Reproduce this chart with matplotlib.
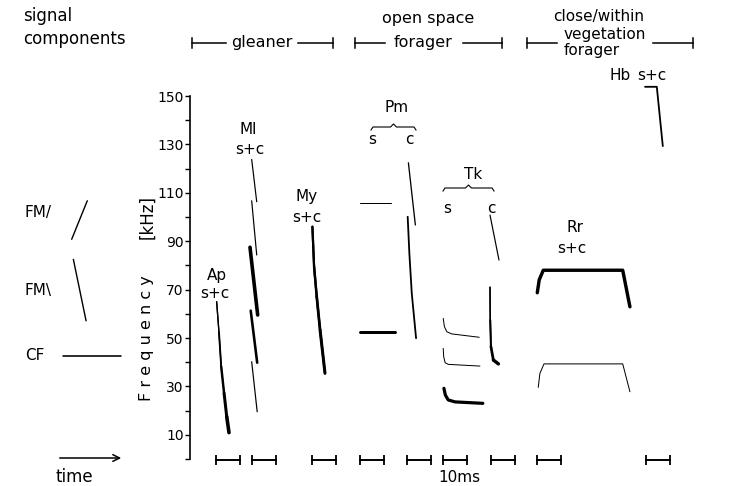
import matplotlib
matplotlib.use("Agg")
import numpy as np
import matplotlib.pyplot as plt
from matplotlib.collections import LineCollection
from matplotlib.lines import Line2D
from matplotlib.patches import FancyArrowPatch

# time in ms, frequency in kHz
ap_t = [11.1, 12.1, 13.0, 14.2, 15.3, 16.25]
ap_f = [65.0, 52.0, 38.2, 27.2, 17.5, 10.9]

ml_t = [[25.7, 27.8], [25.7, 27.8], [25.0, 28.2], [25.3, 28.0], [25.7, 28.0]]
ml_f = [[123.8, 106.3], [106.7, 84.3], [87.5, 59.5], [61.3, 39.8], [40.2, 19.5]]

my_t = [51.0, 51.7, 52.8, 54.2, 56.25]
my_f = [96.0, 79.5, 67.1, 53.3, 35.4]

pm_s_t = [[70.8, 83.6], [70.8, 85.4]]
pm_s_f = [[105.9, 105.9], [52.6, 52.6]]
pm_c_t = [[91.0, 93.9], [90.7, 91.4, 92.4, 94.2]]
pm_c_f = [[122.4, 96.7], [100.1, 85.0, 68.5, 49.9]]

tk_s_t = [[105.5, 106.0, 107.0, 109.0, 120.5],
          [105.5, 105.7, 106.3, 107.6, 120.8],
          [105.8, 106.4, 107.6, 110.4, 122.0]]
tk_s_f = [[58.1, 54.7, 52.6, 51.7, 50.3],
          [45.7, 42.3, 39.8, 39.1, 38.4],
          [29.2, 26.4, 24.4, 23.6, 23.0]]
tk_c_t = [[125.0, 128.75], [125.0, 125.1, 125.4, 126.4, 128.5]]
tk_c_f = [[100.8, 82.2], [71.0, 57.4, 46.4, 40.9, 39.3]]

rr_t = [[144.7, 145.5, 147.2, 180.3, 183.3], [145.1, 145.8, 147.5, 180.3, 183.3]]
rr_f = [[68.7, 74.0, 78.0, 78.0, 62.9], [29.6, 35.4, 39.3, 39.3, 27.8]]

hb_t = [189.6, 194.5, 197.0]
hb_f = [153.8, 153.8, 129.3]

# example components on the left
fm_up_t, fm_up_f = [-49.3, -42.8], [90.8, 106.7]
fm_dn_t, fm_dn_f = [-48.6, -43.3], [82.5, 57.1]
cf_t, cf_f = [-53.0, -28.9], [42.7, 42.7]

# 10 ms scale bars
bar_start = [10.8, 25.8, 50.8, 70.8, 90.4, 105.4, 125.4, 144.6, 190.0]
bar_len = 10

major_ticks = [10, 30, 50, 70, 90, 110, 130, 150]
minor_ticks = [0, 20, 40, 60, 80, 100, 120, 140]

W, H = 742, 486
fig = plt.figure(figsize=(W / 100, H / 100), dpi=100)
ax = fig.add_axes([0, 0, 1, 1])
ax.set_xlim(-190 / 2.4, 552 / 2.4)
ax.set_ylim((459 - 486) / 2.42, 459 / 2.42)
ax.patch.set_alpha(0)

for s in ["top", "right", "bottom"]:
    ax.spines[s].set_visible(False)
ax.spines["left"].set_position(("data", 0))
ax.spines["left"].set_bounds(0, 150)
ax.spines["left"].set_linewidth(1.2)
ax.set_xticks([])
ax.set_yticks(major_ticks)
ax.set_yticks(minor_ticks, minor=True)
ax.tick_params(axis="y", which="both", direction="out", length=3.5, width=1.0)
ax.tick_params(axis="y", which="major", labelsize=10, pad=1)


def px2w(p):
    return p / 1.39


def draw(t, f, w0, w1=None):
    if w1 is None or w1 == w0:
        ax.plot(t, f, color="black", lw=px2w(w0), solid_capstyle="round",
                solid_joinstyle="round")
        return
    # thin line along the whole call, thicker pieces laid on top
    ax.plot(t, f, color="black", lw=px2w(w0), solid_capstyle="round",
            solid_joinstyle="round")
    pts = np.column_stack([t, f])
    segs = [pts[i:i + 2] for i in range(len(pts) - 1)]
    widths = np.linspace(px2w(w0), px2w(w1), len(segs))
    lc = LineCollection(segs, colors="black", linewidths=widths,
                        capstyle="round", joinstyle="round")
    ax.add_collection(lc)


draw(ap_t, ap_f, 1.3, 3.6)
for t, f, w in zip(ml_t, ml_f, [1.2, 1.2, 3.6, 2.6, 1.2]):
    draw(t, f, w)
draw(my_t, my_f, 2.2, 3.0)
draw(pm_s_t[0], pm_s_f[0], 1.0)
draw(pm_s_t[1], pm_s_f[1], 3.0)
draw(pm_c_t[0], pm_c_f[0], 1.3)
draw(pm_c_t[1], pm_c_f[1], 1.8)
for t, f, w in zip(tk_s_t, tk_s_f, [1.0, 1.0, 3.2]):
    draw(t, f, w)
draw(tk_c_t[0], tk_c_f[0], 1.2)
draw(tk_c_t[1], tk_c_f[1], 1.4, 3.4)
draw(rr_t[0], rr_f[0], 3.4)
draw(rr_t[1], rr_f[1], 1.0)
draw(hb_t, hb_f, 1.8)

draw(fm_up_t, fm_up_f, 1.4)
draw(fm_dn_t, fm_dn_f, 1.4)
draw(cf_t, cf_f, 1.6)

for b in bar_start:
    ax.plot([b, b + bar_len], [-0.5, -0.5], color="black", lw=1.4,
            marker="|", markersize=7, markeredgewidth=1.3)


# ---- annotation helpers (pixel positions of the layout)
def fx(x, y):
    return x / W, 1 - y / H


def txt(x, y, s, size=11, ha="center", **kw):
    fig.text(*fx(x, y), s, ha=ha, va="center", fontsize=size, **kw)


def fline(xs, ys, lw=1.1):
    fig.add_artist(Line2D([x / W for x in xs], [1 - y / H for y in ys],
                          color="black", lw=lw, transform=fig.transFigure))


def bracket(x0, a, b, x1, y):
    fline([x0, x0], [y - 5, y + 5])
    fline([x0, a], [y, y])
    fline([b, x1], [y, y])
    fline([x1, x1], [y - 5, y + 5])


def brace(x0, x1, y):
    xm = (x0 + x1) / 2
    fline([x0, x0 + 2, xm - 3, xm, xm + 3, x1 - 2, x1],
          [y + 3, y, y, y - 3, y, y, y + 3], lw=0.8)


txt(23, 16, "signal", 12, ha="left")
txt(23, 39, "components", 12, ha="left")

bracket(192, 226, 298, 333, 43)
txt(262, 43, "gleaner", 11.5)
txt(428, 18, "open space", 11.5)
bracket(355, 385, 463, 502, 43)
txt(423, 43, "forager", 11.5)
txt(599, 17, "close/within", 11)
txt(605, 34, "vegetation", 11)
txt(592, 51, "forager", 11)
bracket(527, 557, 653, 693, 43)

txt(25, 212, "FM/", 11, ha="left")
txt(25, 290, "FM\\", 11, ha="left")
txt(25, 355, "CF", 11, ha="left")
fig.add_artist(FancyArrowPatch(
    fx(57, 458), fx(124, 458), transform=fig.transFigure,
    arrowstyle="->", mutation_scale=12, lw=1.1, color="black"))
txt(74, 477, "time", 12)
txt(459, 477, "10ms", 11)

fig.text(*fx(146, 338), "F r e q u e n c y", rotation=90, ha="center",
         va="center", fontsize=11.5)
fig.text(*fx(147, 217), "[kHz]", rotation=90, ha="center", va="center",
         fontsize=12)

txt(217, 275, "Ap")
txt(215, 293, "s+c")
txt(248, 130, "Ml")
txt(250, 149, "s+c")
txt(307, 197, "My")
txt(307, 217, "s+c")
txt(397, 108, "Pm")
brace(371, 416, 127)
txt(372, 140, "s")
txt(409, 140, "c")
txt(473, 174, "Tk")
brace(443, 494, 188)
txt(447, 208, "s")
txt(491, 208, "c")
txt(575, 228, "Rr")
txt(572, 248, "s+c")
txt(620, 76, "Hb")
txt(652, 76, "s+c")

fig.savefig("out.png", dpi=100, facecolor="white")
